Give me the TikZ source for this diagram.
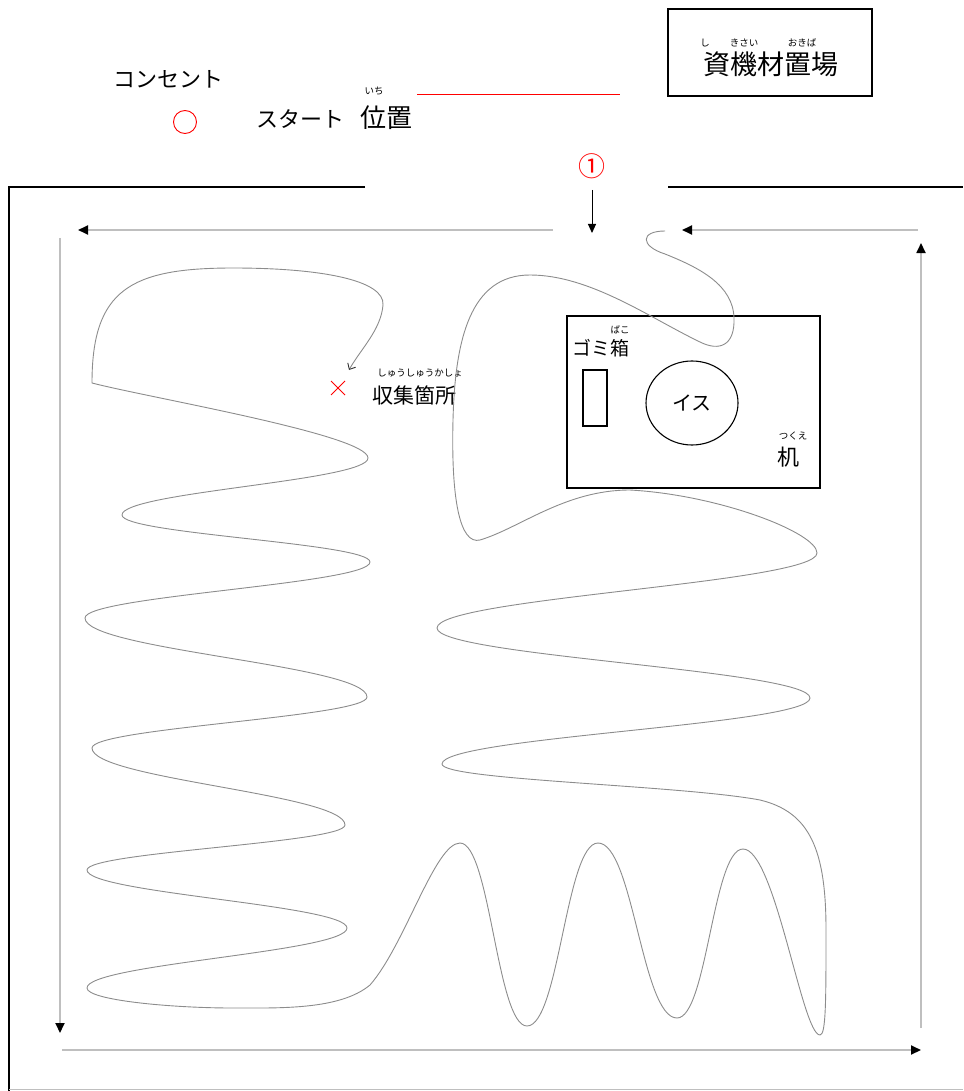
\documentclass[tikz,border=0pt]{standalone}
\usepackage{fontspec}
\newfontfamily\jpfont{Noto Sans CJK JP}
\usepackage{tikz}
\usetikzlibrary{shapes.geometric, shapes.misc, arrows.meta, positioning}

\begin{document}
\begin{tikzpicture}[x=1pt,y=-1pt]
		\tikzstyle{wall} = [draw=black, line width=1.6pt]
		\tikzstyle{route} = [draw=black!25, line width=1.8pt, -{Triangle[color=black, length=10pt, width=9pt]}]
		\tikzstyle{walk} = [draw=black!45, line width=0.9pt, -{Straight Barb[color=black!80, length=5pt, width=9pt]}]
		\tikzstyle{txt} = [inner sep=0pt, font=\jpfont\fontsize{22}{24}\selectfont]
		\tikzstyle{furi} = [inner sep=0pt, font=\jpfont\fontsize{9.5}{11}\selectfont]
		\tikzstyle{furniture} = [rectangle, draw=black, line width=1.3pt, inner sep=0pt]
		\useasboundingbox (0,0) rectangle (963,1091);

		\coordinate (wallA) at (365,187);
		\coordinate (wallB) at (9,187);
		\coordinate (wallC) at (9,1091);
		\coordinate (wallD) at (668,187);
		\coordinate (wallE) at (963,187);
		\coordinate (floorA) at (9,1089);
		\coordinate (floorB) at (963,1089);
		\path [wall] (wallA) -- (wallB) -- (wallC);
		\path [wall] (wallD) -- (wallE);
		\path [draw=black!25, line width=1pt] (floorA) -- (floorB);

		\node (plug) [txt] at (168,79) {コンセント};
		\node (socket) [circle, draw=red, line width=0.9pt, minimum size=23pt, inner sep=0pt] at (185,122) {};
		\node (start) [txt, anchor=east] at (413,118) {スタート\hspace{16pt}{\fontsize{26}{28}\selectfont 位置}};
		\node (ichi) [furi] at (374,91) {いち};
		\coordinate (lineA) at (417,95);
		\coordinate (lineB) at (620,95);
		\path [draw=red, line width=1pt] (lineA) -- (lineB);

		\node (depot) [furniture, minimum width=204pt, minimum height=87pt] at (770,52.5) {};
		\node (depottxt) [txt, font=\jpfont\fontsize{27}{30}\selectfont] at (771,64) {資機材置場};
		\node (shi) [furi] at (705,43) {し};
		\node (kizai) [furi] at (744,43) {きさい};
		\node (okiba) [furi] at (802,43) {おきば};

		\node (one) [txt, text=red, font=\jpfont\fontsize{27}{28}\selectfont] at (592,166) {①};
		\coordinate (entryA) at (592,190);
		\coordinate (entryB) at (592,233);
		\path [draw=black, line width=1pt, -{Triangle[length=9pt, width=8pt]}] (entryA) -- (entryB);

		\coordinate (topA) at (553,230);
		\coordinate (topB) at (78,230);
		\coordinate (leftA) at (60,238);
		\coordinate (leftB) at (60,1033);
		\coordinate (botA) at (62,1050);
		\coordinate (botB) at (921,1050);
		\coordinate (rightA) at (921,1028);
		\coordinate (rightB) at (921,243);
		\coordinate (backA) at (918,230);
		\coordinate (backB) at (682,230);
		\path [route] (topA) -- (topB);
		\path [route] (leftA) -- (leftB);
		\path [route] (botA) -- (botB);
		\path [route] (rightA) -- (rightB);
		\path [route] (backA) -- (backB);

		\node (desk) [furniture, minimum width=253pt, minimum height=172pt] at (693.5,402) {};
		\node (bin) [furniture, line width=1.1pt, minimum width=24pt, minimum height=56pt] at (595,398) {};
		\node (chair) [ellipse, draw=black, line width=1.1pt, minimum width=92pt, minimum height=84pt, txt, font=\jpfont\fontsize{20}{22}\selectfont] at (692,403) {イス};
		\node (bintxt) [txt, font=\jpfont\fontsize{19}{22}\selectfont] at (601,348) {ゴミ箱};
		\node (bako) [furi] at (620,330) {ばこ};
		\node (desktxt) [txt] at (788,457) {机};
		\node (tsukue) [furi] at (793,436) {つくえ};

		\node (spot) [cross out, draw=red, line width=1pt, minimum size=13pt, inner sep=0pt] at (338,388) {};
		\node (spottxt) [txt, font=\jpfont\fontsize{21}{22}\selectfont] at (414,395) {収集箇所};
		\node (shushu) [furi] at (420,373) {しゅうしゅうかしょ};

		\draw [walk] (665,231) .. controls (640,231) and (640,246) .. (665,254)
			.. controls (700,268) and (733,285) .. (734,318)
			.. controls (735,345) and (720,352) .. (700,342)
			.. controls (650,318) and (590,275) .. (530,275)
			.. controls (470,275) and (455,340) .. (453,420)
			.. controls (451,500) and (460,545) .. (480,540)
			.. controls (520,528) and (565,490) .. (630,490)
			.. controls (720,495) and (817,533) .. (817,553)
			.. controls (817,583) and (437,598) .. (437,628)
			.. controls (437,656) and (810,670) .. (810,698)
			.. controls (810,725) and (442,737) .. (442,764)
			.. controls (442,780) and (680,785) .. (760,800)
			.. controls (810,812) and (826,850) .. (826,930)
			.. controls (826,1000) and (826,1035) .. (820,1035)
			.. controls (802,1035) and (775,849) .. (743,849)
			.. controls (713,849) and (707,1018) .. (677,1018)
			.. controls (642,1018) and (633,843) .. (598,843)
			.. controls (566,843) and (559,1026) .. (527,1026)
			.. controls (497,1026) and (490,843) .. (460,843)
			.. controls (435,843) and (405,945) .. (370,985)
			.. controls (340,1010) and (280,1008) .. (233,1008)
			.. controls (170,1008) and (87,1000) .. (87,988)
			.. controls (87,964) and (347,952) .. (347,928)
			.. controls (347,905) and (87,893) .. (87,870)
			.. controls (87,852) and (345,843) .. (345,825)
			.. controls (345,794) and (92,779) .. (92,748)
			.. controls (92,728) and (367,717) .. (367,697)
			.. controls (367,665) and (85,650) .. (85,618)
			.. controls (85,596) and (370,584) .. (370,562)
			.. controls (370,543) and (122,534) .. (122,515)
			.. controls (122,492) and (368,481) .. (368,458)
			.. controls (368,435) and (150,398) .. (92,383)
			.. controls (92,290) and (130,268) .. (233,268)
			.. controls (320,268) and (385,280) .. (383,305)
			.. controls (381,330) and (360,350) .. (349,370);
	\end{tikzpicture}
\end{document}
